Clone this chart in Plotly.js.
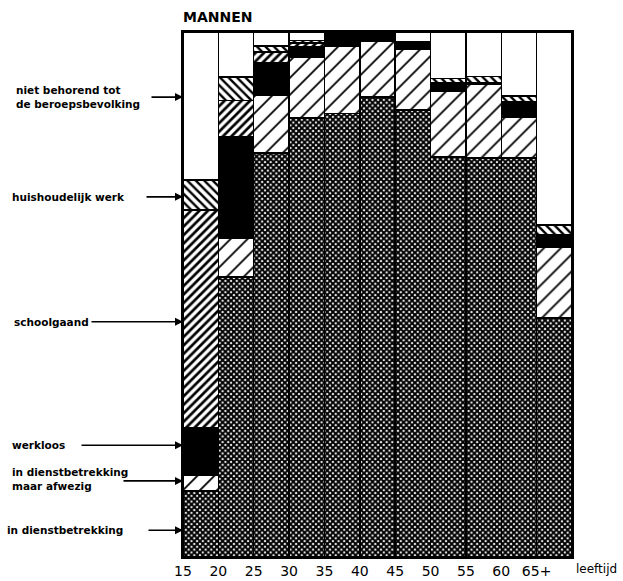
<!DOCTYPE html>
<html>
<head>
<meta charset="utf-8">
<script src="https://cdn.plot.ly/plotly-3.0.1.min.js"></script>
<style>html,body{margin:0;padding:0;background:#fff}#chart{width:623px;height:581px}</style>
</head>
<body>
<div id="chart"></div>
<script>
// Age groups (bar positions) and tick labels at bar boundaries
const categories = ['15-20','20-25','25-30','30-35','35-40','40-45','45-50','50-55','55-60','60-65','65+'];
const tickLabels = ['15','20','25','30','35','40','45','50','55','60','65+'];

// Percent of men per category, bottom to top
const inDienst      = [12.6, 53.3, 77.0, 83.6, 84.5, 87.6, 85.1, 76.2, 76.0, 76.0, 45.5];
const afwezig       = [3.0, 7.4, 11.0, 11.6, 12.7, 10.7, 11.6, 12.6, 14.1, 7.8, 13.5];
const werkloos      = [9.0, 19.4, 6.1, 1.9, 2.5, 1.5, 1.5, 1.5, 0.3, 3.0, 2.3];
const schoolgaand   = [41.5, 6.9, 2.1, 0.8, 0, 0, 0, 0, 0, 0, 0];
const huishoudelijk = [5.7, 4.4, 1.1, 0.5, 0, 0, 0, 0.8, 1.1, 1.0, 1.9];
const nietBeroeps   = [28.2, 8.6, 2.7, 1.6, 0.3, 0.2, 1.8, 8.9, 8.5, 12.2, 36.8];

const seriesNames = ['in dienstbetrekking','in dienstbetrekking maar afwezig','werkloos','schoolgaand','huishoudelijk werk','niet behorend tot de beroepsbevolking'];
const seriesValues = [inDienst, afwezig, werkloos, schoolgaand, huishoudelijk, nietBeroeps];

const xPos = categories.map((c, i) => i + 0.5);

const patterns = [
  {shape: 'x', fgcolor: '#000000', bgcolor: '#ffffff', size: 4, solidity: 0.75, fillmode: 'replace'},
  {shape: '/', fgcolor: '#000000', bgcolor: '#ffffff', size: 12, solidity: 0.15, fillmode: 'replace'},
  null,
  {shape: '/', fgcolor: '#000000', bgcolor: '#ffffff', size: 6, solidity: 0.45, fillmode: 'replace'},
  {shape: '\\', fgcolor: '#000000', bgcolor: '#ffffff', size: 6, solidity: 0.4, fillmode: 'replace'},
  null
];
const colors = ['#ffffff', '#ffffff', '#000000', '#ffffff', '#ffffff', '#ffffff'];

const traces = seriesValues.map((vals, k) => {
  const m = {color: colors[k], line: {color: '#000', width: 1.5}};
  if (patterns[k]) m.pattern = patterns[k];
  return {
    type: 'bar', x: xPos, y: vals, name: seriesNames[k], width: 1,
    marker: m, hoverinfo: 'skip', customdata: categories
  };
});

const labelFont = {family: 'DejaVu Sans, sans-serif', size: 10.5, color: '#000'};
const labels = [
  {text: '<b>niet behorend tot<br>de beroepsbevolking</b>', y: 87.6, xpx: 14, ax: -33},
  {text: '<b>huishoudelijk werk</b>', y: 68.6, xpx: 10, ax: -38},
  {text: '<b>schoolgaand</b>', y: 44.8, xpx: 12, ax: -93},
  {text: '<b>werkloos</b>', y: 21.3, xpx: 10, ax: -103},
  {text: '<b>in dienstbetrekking<br>maar afwezig</b>', y: 14.8, xpx: 10, ax: -61, ay: 14.5},
  {text: '<b>in dienstbetrekking</b>', y: 5.1, xpx: 5, ax: -36}
];
const annotations = [];
labels.forEach(l => {
  annotations.push({xref: 'paper', yref: 'y', x: (l.xpx - 183) / 389, y: l.y, xanchor: 'left', yanchor: 'middle',
    text: l.text, showarrow: false, align: 'left', font: labelFont});
  annotations.push({xref: 'paper', yref: 'y', x: 0, y: (l.ay !== undefined ? l.ay : l.y), text: '', showarrow: true,
    ax: l.ax, ay: 0, arrowhead: 2, arrowsize: 1, arrowwidth: 1.6, arrowcolor: '#000', standoff: 0});
});
annotations.push({xref: 'paper', yref: 'paper', x: (574 - 183) / 389, y: -0.006, xanchor: 'left', yanchor: 'top',
  text: 'leeftijd', showarrow: false, font: {family: 'DejaVu Sans, sans-serif', size: 12, color: '#000'}});

const layout = {
  width: 623, height: 581,
  margin: {l: 183, r: 51, t: 32, b: 24},
  paper_bgcolor: '#fff', plot_bgcolor: '#fff',
  barmode: 'stack', bargap: 0,
  showlegend: false,
  title: {text: '<b>MANNEN</b>', x: 183 / 623, xanchor: 'left', y: 0.97, yanchor: 'middle',
    font: {family: 'DejaVu Sans, sans-serif', size: 14, color: '#000'}},
  xaxis: {range: [0, 11], tickvals: tickLabels.map((t, i) => i), ticktext: tickLabels,
    showgrid: false, zeroline: false, showline: true, linecolor: '#000', linewidth: 2, mirror: true,
    ticks: '', tickfont: {family: 'DejaVu Sans, sans-serif', size: 14, color: '#000'}, fixedrange: true},
  yaxis: {range: [0, 100], showticklabels: false, showgrid: false, zeroline: false, showline: true,
    linecolor: '#000', linewidth: 2, mirror: true, ticks: '', fixedrange: true},
  annotations: annotations
};

Plotly.newPlot('chart', traces, layout, {staticPlot: true, displayModeBar: false});
</script>
</body>
</html>
